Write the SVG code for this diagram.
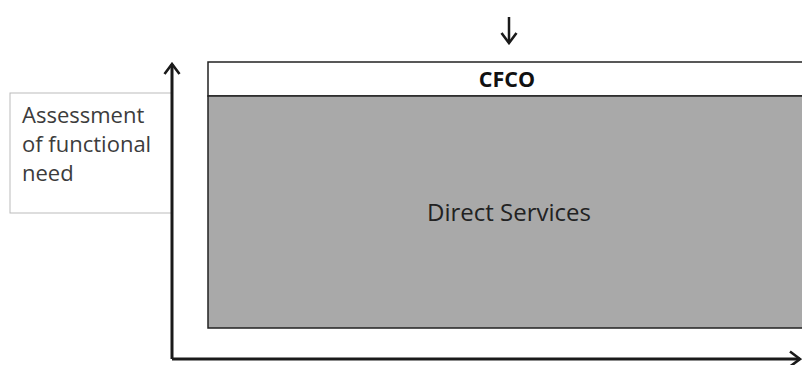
<svg xmlns="http://www.w3.org/2000/svg" width="802" height="365" viewBox="0 0 802 365">
<style>
.lbl{font-family:"Open Sans","Noto Sans",sans-serif;fill:#3c3c3c;font-size:22px}
.ax{stroke:#1a1a1a;stroke-width:3;fill:none}
</style>
<defs>
<marker id="ah" viewBox="0 0 14 18" refX="12" refY="9" markerWidth="14" markerHeight="18" markerUnits="userSpaceOnUse" orient="auto">
<path d="M2,1.5 L12,9 L2,16.5" fill="none" stroke="#1a1a1a" stroke-width="2.6"/>
</marker>
</defs>
<rect width="802" height="365" fill="#fff"/>
<g id="label">
<rect x="10" y="93" width="162" height="120" fill="none" stroke="#bbb" stroke-width="1"/>
<text class="lbl" x="22" y="123">Assessment</text>
<text class="lbl" x="22" y="152">of functional</text>
<text class="lbl" x="22" y="181">need</text>
</g>
<g id="cfco">
<rect x="208" y="62" width="600" height="34" fill="#fff" stroke="#222" stroke-width="1.5"/>
<text x="507" y="87" text-anchor="middle" style="font-family:'Open Sans','Noto Sans',sans-serif;font-weight:bold;font-size:21.5px;fill:#111">CFCO</text>
</g>
<g id="direct">
<rect x="208" y="96" width="600" height="232" fill="#a9a9a9" stroke="#222" stroke-width="1.5"/>
<text class="lbl" x="509" y="221" text-anchor="middle" style="fill:#222;font-size:24px">Direct Services</text>
</g>
<g id="connectors">
<line class="ax" x1="509" y1="17" x2="509" y2="43" marker-end="url(#ah)" style="stroke-width:2.5"/>
<path class="ax" d="M172,359 L172,64" marker-end="url(#ah)"/>
<path class="ax" d="M172,359 L800,359" marker-end="url(#ah)"/>
</g>
</svg>
